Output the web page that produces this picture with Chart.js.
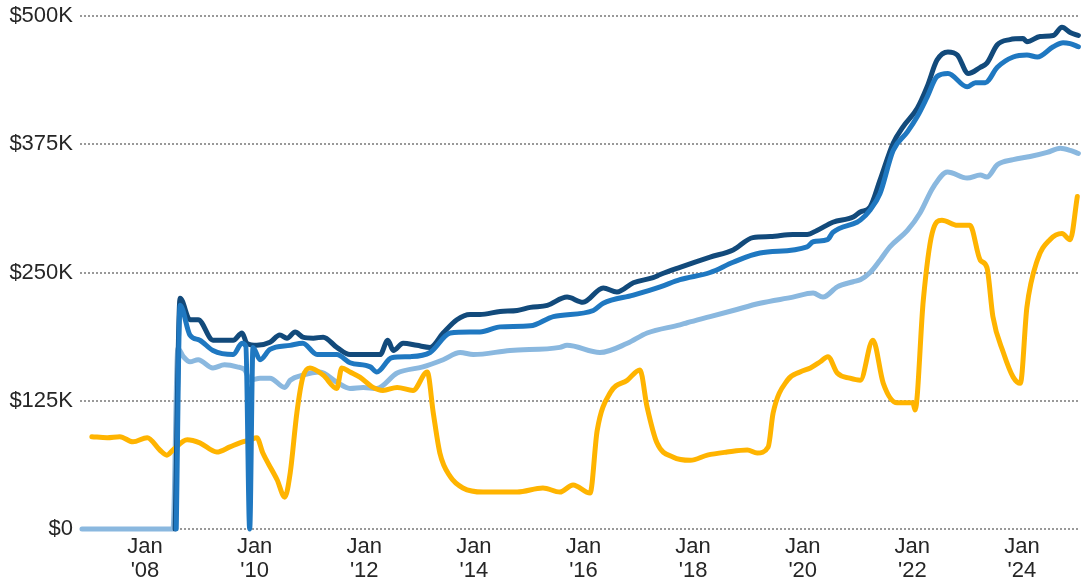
<!DOCTYPE html>
<html>
<head>
<meta charset="utf-8">
<script src="https://cdn.jsdelivr.net/npm/chart.js@4/dist/chart.umd.min.js"></script>
<style>
  html, body { margin: 0; padding: 0; background: #fff; }
  #wrap { width: 1088px; height: 584px; }
</style>
</head>
<body>
<div id="wrap"><canvas id="c" width="1088" height="584"></canvas></div>
<script>
// Values in thousands of dollars; dates in decimal years
const xTickYears = [2008, 2010, 2012, 2014, 2016, 2018, 2020, 2022, 2024];
const yTickValues = [0, 125, 250, 375, 500];

const lightDates = [2006.85, 2008.51, 2008.60, 2008.70, 2008.82, 2008.97, 2009.24, 2009.45, 2009.68, 2009.82, 2009.92, 2010.10, 2010.28, 2010.55, 2010.65, 2010.88, 2011.19, 2011.50, 2011.74, 2011.98, 2012.23, 2012.60, 2013.07, 2013.44, 2013.75, 2013.99, 2014.66, 2015.57, 2015.70, 2016.30, 2016.80, 2017.16, 2017.76, 2017.89, 2018.31, 2018.73, 2019.22, 2019.82, 2020.19, 2020.37, 2020.63, 2020.92, 2021.05, 2021.23, 2021.41, 2021.59, 2021.91, 2022.14, 2022.38, 2022.64, 2023.00, 2023.24, 2023.36, 2023.55, 2023.84, 2024.15, 2024.46, 2024.70, 2024.88, 2025.03];
const lightValues = [0, 0, 176, 168, 163, 165, 157, 160, 158, 155, 145, 147, 147, 138, 145, 150, 153, 143, 137, 138, 137, 152, 158, 165, 172, 170, 174, 177, 179, 172, 181, 191, 199, 201, 207, 213, 220, 226, 230, 226, 236, 241, 243, 250, 262, 275, 291, 308, 333, 348, 342, 345, 343, 355, 360, 363, 367, 371, 369, 366];

const darkDates = [2008.55, 2008.64, 2008.82, 2008.97, 2009.24, 2009.61, 2009.77, 2009.86, 2010.04, 2010.28, 2010.46, 2010.59, 2010.74, 2010.88, 2011.07, 2011.25, 2011.50, 2011.74, 2012.29, 2012.43, 2012.53, 2012.71, 2012.96, 2013.20, 2013.44, 2013.69, 2013.93, 2014.11, 2014.48, 2014.79, 2015.03, 2015.34, 2015.70, 2015.99, 2016.36, 2016.61, 2016.91, 2017.27, 2017.40, 2017.76, 2018.31, 2018.73, 2019.09, 2019.41, 2019.82, 2020.08, 2020.26, 2020.55, 2020.92, 2021.05, 2021.23, 2021.41, 2021.65, 2021.83, 2022.09, 2022.27, 2022.45, 2022.65, 2022.82, 2023.02, 2023.24, 2023.36, 2023.55, 2023.78, 2024.02, 2024.09, 2024.33, 2024.57, 2024.73, 2024.88, 2025.03];
const darkValues = [0, 225, 204, 204, 184, 184, 191, 181, 179, 182, 189, 186, 192, 187, 186, 187, 177, 170, 170, 184, 174, 181, 179, 177, 191, 204, 209, 209, 212, 213, 216, 218, 226, 221, 235, 231, 240, 245, 248, 255, 265, 272, 284, 285, 287, 287, 291, 299, 304, 309, 314, 340, 376, 392, 410, 431, 457, 465, 462, 444, 450, 454, 472, 477, 478, 475, 480, 481, 489, 484, 481];

const midDates = [2008.57, 2008.64, 2008.82, 2009.00, 2009.24, 2009.61, 2009.77, 2009.84, 2009.91, 2009.97, 2010.10, 2010.28, 2010.65, 2010.88, 2011.14, 2011.50, 2011.74, 2012.11, 2012.23, 2012.50, 2012.84, 2013.20, 2013.57, 2013.93, 2014.11, 2014.48, 2015.03, 2015.45, 2016.18, 2016.36, 2016.91, 2017.40, 2017.76, 2018.31, 2018.73, 2019.22, 2020.08, 2020.19, 2020.45, 2020.55, 2020.99, 2021.05, 2021.23, 2021.41, 2021.65, 2021.91, 2022.09, 2022.27, 2022.45, 2022.65, 2023.00, 2023.15, 2023.33, 2023.55, 2023.84, 2024.09, 2024.28, 2024.57, 2024.75, 2024.88, 2025.03];
const midValues = [0, 218, 189, 184, 174, 170, 181, 178, 0, 177, 165, 175, 179, 181, 170, 170, 162, 158, 153, 167, 168, 172, 191, 192, 192, 197, 198, 207, 213, 220, 228, 236, 243, 250, 260, 269, 275, 280, 282, 289, 299, 301, 311, 327, 369, 387, 402, 421, 441, 444, 431, 435, 435, 450, 460, 462, 460, 470, 474, 473, 470];

const orangeDates = [2007.03, 2007.31, 2007.54, 2007.78, 2008.04, 2008.27, 2008.40, 2008.51, 2008.77, 2009.00, 2009.31, 2009.55, 2009.73, 2009.92, 2010.04, 2010.15, 2010.32, 2010.41, 2010.55, 2010.65, 2010.77, 2010.88, 2011.01, 2011.25, 2011.50, 2011.59, 2011.74, 2011.92, 2012.16, 2012.34, 2012.60, 2012.89, 2013.15, 2013.26, 2013.38, 2013.57, 2013.80, 2014.17, 2014.79, 2015.26, 2015.57, 2015.81, 2016.12, 2016.25, 2016.49, 2016.80, 2017.03, 2017.16, 2017.34, 2017.64, 2017.95, 2018.26, 2018.62, 2018.99, 2019.17, 2019.37, 2019.46, 2019.72, 2019.95, 2020.14, 2020.32, 2020.46, 2020.63, 2020.86, 2021.05, 2021.28, 2021.47, 2021.72, 2022.01, 2022.05, 2022.20, 2022.36, 2022.54, 2022.82, 2023.05, 2023.24, 2023.36, 2023.47, 2023.66, 2023.84, 2023.97, 2024.09, 2024.28, 2024.51, 2024.73, 2024.88, 2025.01];
const orangeValues = [90, 89, 90, 85, 89, 77, 72, 77, 87, 84, 75, 80, 84, 87, 89, 74, 57, 48, 31, 55, 113, 148, 157, 150, 137, 157, 153, 148, 138, 135, 138, 135, 153, 113, 74, 51, 40, 36, 36, 40, 36, 43, 35, 96, 133, 145, 155, 119, 84, 70, 67, 72, 75, 77, 74, 80, 113, 145, 153, 157, 163, 168, 152, 147, 145, 184, 142, 123, 123, 116, 223, 288, 301, 296, 296, 262, 255, 207, 172, 148, 142, 216, 262, 282, 288, 282, 324];

const X_MIN = 2006.814, X_MAX = 2025.059;

function pts(dates, vals) { return dates.map((d, i) => ({ x: d, y: vals[i] })); }

const FONT = { family: "'Liberation Sans', Arial, sans-serif", size: 22, lineHeight: 1.1 };
const common = { pointRadius: 0, borderWidth: 5, fill: false, clip: 10, cubicInterpolationMode: 'monotone', borderJoinStyle: 'round', borderCapStyle: 'round' };

new Chart(document.getElementById('c'), {
  type: 'line',
  data: {
    datasets: [
      Object.assign({ label: 'Mid', data: pts(midDates, midValues), borderColor: '#1f78c1', order: 0 }, common),
      Object.assign({ label: 'Dark', data: pts(darkDates, darkValues), borderColor: '#124a7b', order: 1 }, common),
      Object.assign({ label: 'Orange', data: pts(orangeDates, orangeValues), borderColor: '#ffb400', order: 2 }, common),
      Object.assign({ label: 'Light', data: pts(lightDates, lightValues), borderColor: '#8ab8df', order: 3 }, common)
    ]
  },
  options: {
    responsive: false,
    animation: false,
    layout: { padding: { top: 16, right: 8, bottom: 0, left: 0 } },
    plugins: { legend: { display: false }, tooltip: { enabled: false } },
    scales: {
      x: {
        type: 'linear',
        min: X_MIN, max: X_MAX,
        grid: { display: false, drawTicks: false },
        border: { display: false },
        afterBuildTicks: (s) => { s.ticks = xTickYears.map(v => ({ value: v })); },
        afterFit: (s) => { s.height = 55; s.paddingLeft = 0; s.paddingRight = 0; },
        ticks: {
          autoSkip: false, maxRotation: 0, padding: 6,
          color: '#262626', font: FONT,
          callback: (v) => ['Jan', "'" + String(v).slice(2)]
        }
      },
      y: {
        min: 0, max: 500,
        afterBuildTicks: (s) => { s.ticks = yTickValues.map(v => ({ value: v })); },
        afterFit: (s) => { s.width = 80; s.paddingTop = 0; s.paddingBottom = 0; },
        grid: { color: '#999999', lineWidth: 2, drawTicks: false, borderDash: [2, 2] },
        border: { display: false, dash: [2, 2] },
        ticks: {
          padding: 7, color: '#262626', font: FONT,
          callback: (v) => v === 0 ? '$0' : '$' + v + 'K'
        }
      }
    }
  }
});
</script>
</body>
</html>
